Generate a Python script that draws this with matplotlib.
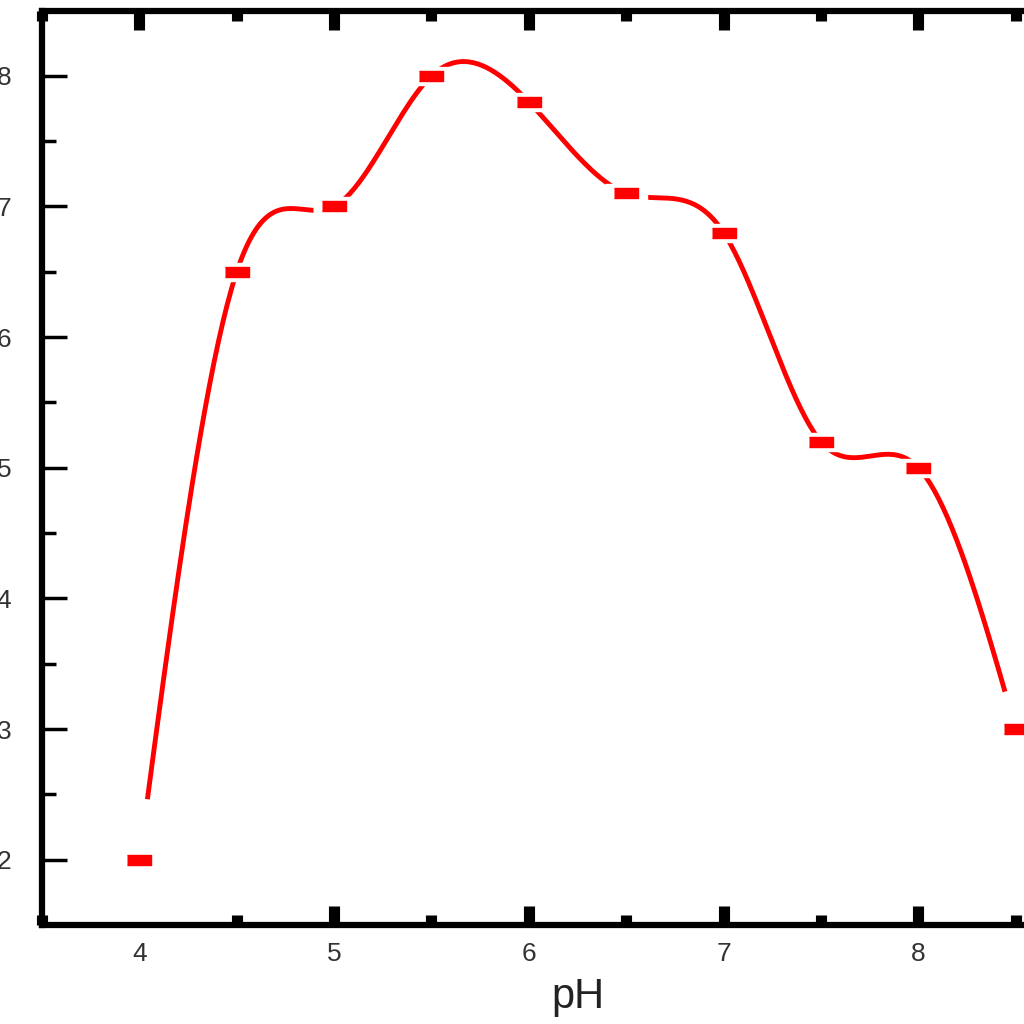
import numpy as np
import matplotlib.pyplot as plt
from matplotlib.ticker import MultipleLocator

# values
ph = [4.0, 4.5, 5.0, 5.5, 6.0, 6.5, 7.0, 7.5, 8.0, 8.5]
response = [2.0, 6.5, 7.0, 8.0, 7.8, 7.1, 6.8, 5.2, 5.0, 3.0]
x_ticks = [4, 5, 6, 7, 8]
y_ticks = [2, 3, 4, 5, 6, 7, 8]


def natural_spline(xs, ys, n=400):
    # plain natural cubic spline, used only to draw the smooth connecting line
    xs = np.asarray(xs, float)
    ys = np.asarray(ys, float)
    k = len(xs)
    h = np.diff(xs)
    A = np.zeros((k, k))
    b = np.zeros(k)
    A[0, 0] = A[-1, -1] = 1.0
    for i in range(1, k - 1):
        A[i, i - 1] = h[i - 1]
        A[i, i] = 2 * (h[i - 1] + h[i])
        A[i, i + 1] = h[i]
        b[i] = 6 * ((ys[i + 1] - ys[i]) / h[i] - (ys[i] - ys[i - 1]) / h[i - 1])
    m = np.linalg.solve(A, b)
    xx = np.linspace(xs[0], xs[-1], n)
    idx = np.clip(np.searchsorted(xs, xx) - 1, 0, k - 2)
    x0, x1 = xs[idx], xs[idx + 1]
    hh = x1 - x0
    t0, t1 = x1 - xx, xx - x0
    yy = (m[idx] * t0 ** 3 + m[idx + 1] * t1 ** 3) / (6 * hh) \
        + (ys[idx] / hh - m[idx] * hh / 6) * t0 \
        + (ys[idx + 1] / hh - m[idx + 1] * hh / 6) * t1
    return xx, yy


fig = plt.figure(figsize=(10.24, 10.24), dpi=100)
# the reference is cropped: the axes run past the right edge of the picture
ax = fig.add_axes([0.041, 0.0967, 1.046, 0.893])

sx, sy = natural_spline(ph, response)
ax.plot(sx, sy, color='red', lw=3.5, zorder=2)

# rectangular markers with a white halo so the line has a gap at each point
rect = [(-1, -0.45), (1, -0.45), (1, 0.45), (-1, 0.45)]
ax.plot(ph, response, ls='none', marker=rect, ms=30, color='white', zorder=3)
# the end points have a wider gap in the original
ax.plot([ph[0]], [response[0]], ls='none', marker='o', ms=88, color='white', zorder=2.2)
ax.plot([ph[-1]], [response[-1]], ls='none', marker='o', ms=56, color='white', zorder=2.2)
ax.plot(ph, response, ls='none', marker=rect, ms=17, color='red', zorder=4)

ax.set_xlim(3.5, 9.0)
ax.set_ylim(1.5, 8.5)
ax.set_xticks(x_ticks)
ax.set_yticks(y_ticks)
ax.xaxis.set_minor_locator(MultipleLocator(0.5))
ax.yaxis.set_minor_locator(MultipleLocator(0.5))

for s in ax.spines.values():
    s.set_linewidth(4.5)
    s.set_zorder(5)

ax.tick_params(axis='x', which='both', direction='in', top=True, width=8,
               labelsize=19, pad=12, labelcolor='#333333')
ax.tick_params(axis='x', which='major', length=14)
ax.tick_params(axis='x', which='minor', length=7)
ax.tick_params(axis='y', which='both', direction='in', right=True, width=2.5,
               labelsize=19, pad=22, labelcolor='#333333')
ax.tick_params(axis='y', which='major', length=18)
ax.tick_params(axis='y', which='minor', length=10)
for lab in ax.get_xticklabels() + ax.get_yticklabels():
    lab.set_family('Liberation Sans')

ax.set_xlabel('pH', fontsize=30, family='Liberation Sans', color='#222222', labelpad=8)

fig.savefig('out.png', dpi=100)
